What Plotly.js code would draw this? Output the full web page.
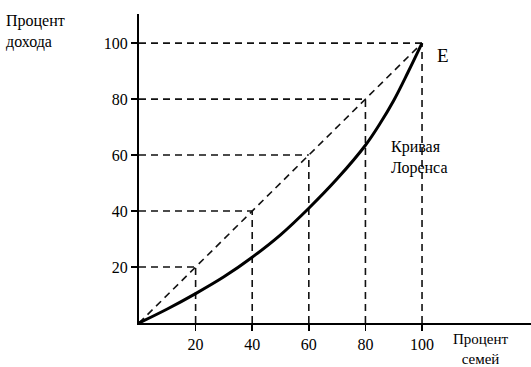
<!DOCTYPE html>
<html>
<head>
<meta charset="utf-8">
<script src="https://cdn.plot.ly/plotly-3.0.1.min.js"></script>
<style>html,body{margin:0;padding:0;background:#fff;}#chart{width:531px;height:367px;}</style>
</head>
<body>
<div id="chart"></div>
<script>
// Data
var tickValues = [20, 40, 60, 80, 100];
var tickLabels = ['20', '40', '60', '80', '100'];
var lorenzX = [0, 10, 20, 30, 40, 50, 60, 70, 80, 85, 90, 95, 100];
var lorenzY = [0, 5, 10.5, 16.5, 23.5, 31.5, 41, 51.5, 63.5, 71, 79.5, 89.5, 100];
var equalityX = [0, 100];
var equalityY = [0, 100];

var font = '"Liberation Serif", "DejaVu Serif", serif';
var traces = [];
var dashStyle = {color: '#111', width: 1.6, dash: '7px,5px'};

// guide lines: horizontal from y-axis to diagonal, vertical from x-axis to diagonal
tickValues.forEach(function (v) {
  traces.push({x: [0, v], y: [v, v], mode: 'lines', line: dashStyle, hoverinfo: 'skip', showlegend: false});
  traces.push({x: [v, v], y: [0, v], mode: 'lines', line: dashStyle, hoverinfo: 'skip', showlegend: false});
});
traces.push({x: equalityX, y: equalityY, mode: 'lines', line: dashStyle, hoverinfo: 'skip', showlegend: false});
traces.push({x: lorenzX, y: lorenzY, mode: 'lines', line: {color: '#000', width: 3, shape: 'spline', smoothing: 1}, hoverinfo: 'skip', showlegend: false});

var layout = {
  width: 531, height: 367,
  margin: {l: 139, r: 0, t: 14, b: 44},
  paper_bgcolor: '#fff', plot_bgcolor: '#fff',
  showlegend: false,
  font: {family: font, size: 16, color: '#000'},
  xaxis: {
    range: [0, 138.5], showgrid: false, zeroline: false,
    showline: true, linecolor: '#000', linewidth: 2,
    tickvals: tickValues, ticktext: tickLabels,
    ticks: 'outside', ticklen: 6, tickwidth: 1.5, tickcolor: '#000',
    tickfont: {family: font, size: 16, color: '#000'}
  },
  yaxis: {
    range: [0, 110.4], showgrid: false, zeroline: false,
    showline: true, linecolor: '#000', linewidth: 2,
    tickvals: tickValues, ticktext: tickLabels,
    ticks: 'outside', ticklen: 6, tickwidth: 1.5, tickcolor: '#000',
    tickfont: {family: font, size: 16, color: '#000'}
  },
  annotations: [
    {xref: 'paper', yref: 'paper', x: -135/392, y: 1 + 4/309, xanchor: 'left', yanchor: 'top', align: 'left',
     text: 'Процент<br>дохода', showarrow: false, font: {family: font, size: 16, color: '#000'}},
    {xref: 'paper', yref: 'paper', x: (451-139)/392, y: -6/309, xanchor: 'left', yanchor: 'top', align: 'center',
     text: 'Процент<br>семей', showarrow: false, font: {family: font, size: 15, color: '#000'}},
    {xref: 'x', yref: 'y', x: 104.5, y: 95.5, xanchor: 'left', yanchor: 'middle',
     text: 'E', showarrow: false, font: {family: font, size: 19, color: '#000'}},
    {xref: 'x', yref: 'y', x: 88.5, y: 59, xanchor: 'left', yanchor: 'middle', align: 'left',
     text: 'Кривая<br>Лоренса', showarrow: false, font: {family: font, size: 16, color: '#000'}}
  ]
};

Plotly.newPlot('chart', traces, layout, {staticPlot: true, displayModeBar: false});
</script>
</body>
</html>
